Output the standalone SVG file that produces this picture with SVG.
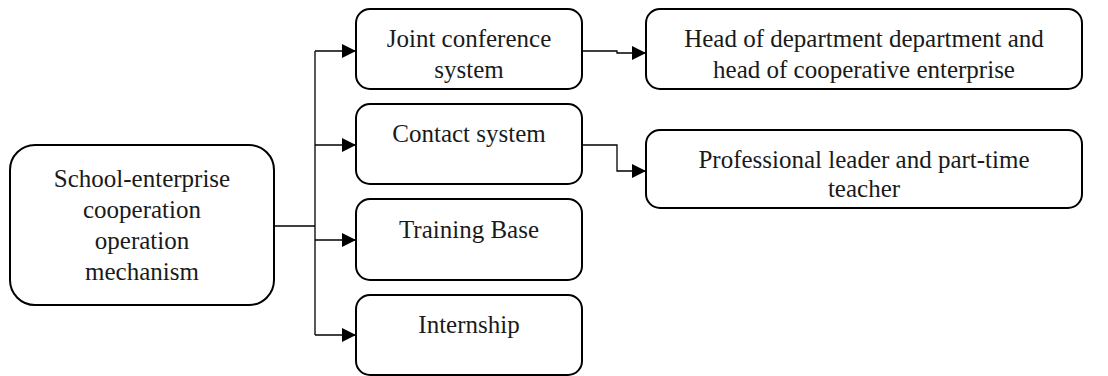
<svg xmlns="http://www.w3.org/2000/svg" width="1108" height="376" viewBox="0 0 1108 376">
  <style>
    .box { fill: #ffffff; stroke: #000000; stroke-width: 2; }
    .lbl { font-family: "Liberation Serif", "Times New Roman", serif; font-size: 25px; fill: #1a1a1a; text-anchor: middle; }
    .wire { fill: none; stroke: #000000; stroke-width: 1.3; marker-end: url(#arrow); }
    .trunk { fill: none; stroke: #000000; stroke-width: 1.3; }
  </style>
  <defs>
    <marker id="arrow" viewBox="0 0 14 14" refX="14" refY="7" markerWidth="14" markerHeight="14" markerUnits="userSpaceOnUse" orient="auto">
      <path d="M0,0 L14,7 L0,14 Z" fill="#000000"/>
    </marker>
  </defs>

  <rect width="1108" height="376" fill="#ffffff"/>

  <!-- connectors -->
  <g id="connectors">
    <path class="trunk" d="M274,226 H315 M315,51 V335"/>
    <path class="wire" d="M315,51 H356"/>
    <path class="wire" d="M315,145 H356"/>
    <path class="wire" d="M315,240 H356"/>
    <path class="wire" d="M315,335 H356"/>
    <path class="wire" d="M582,51 H617 V53 H646"/>
    <path class="wire" d="M582,145 H617 V171 H646"/>
  </g>

  <!-- root -->
  <g id="mechanism">
    <rect class="box" x="10" y="145" width="264" height="160" rx="25"/>
    <text class="lbl" x="142" y="187">School-enterprise</text>
    <text class="lbl" x="142" y="218">cooperation</text>
    <text class="lbl" x="142" y="249">operation</text>
    <text class="lbl" x="142" y="280">mechanism</text>
  </g>

  <!-- second level -->
  <g id="joint-conference">
    <rect class="box" x="356" y="9" width="226" height="80" rx="14"/>
    <text class="lbl" x="469" y="47">Joint conference</text>
    <text class="lbl" x="469" y="78">system</text>
  </g>
  <g id="contact">
    <rect class="box" x="356" y="104" width="226" height="80" rx="14"/>
    <text class="lbl" x="469" y="142">Contact system</text>
  </g>
  <g id="training-base">
    <rect class="box" x="356" y="199" width="226" height="81" rx="14"/>
    <text class="lbl" x="469" y="238">Training Base</text>
  </g>
  <g id="internship">
    <rect class="box" x="356" y="295" width="226" height="80" rx="14"/>
    <text class="lbl" x="469" y="333">Internship</text>
  </g>

  <!-- third level -->
  <g id="heads">
    <rect class="box" x="646" y="9" width="436" height="80" rx="14"/>
    <text class="lbl" x="864" y="47">Head of department department and</text>
    <text class="lbl" x="864" y="78">head of cooperative enterprise</text>
  </g>
  <g id="leaders">
    <rect class="box" x="646" y="130" width="436" height="78" rx="14"/>
    <text class="lbl" x="864" y="168">Professional leader and part-time</text>
    <text class="lbl" x="864" y="197">teacher</text>
  </g>
</svg>
